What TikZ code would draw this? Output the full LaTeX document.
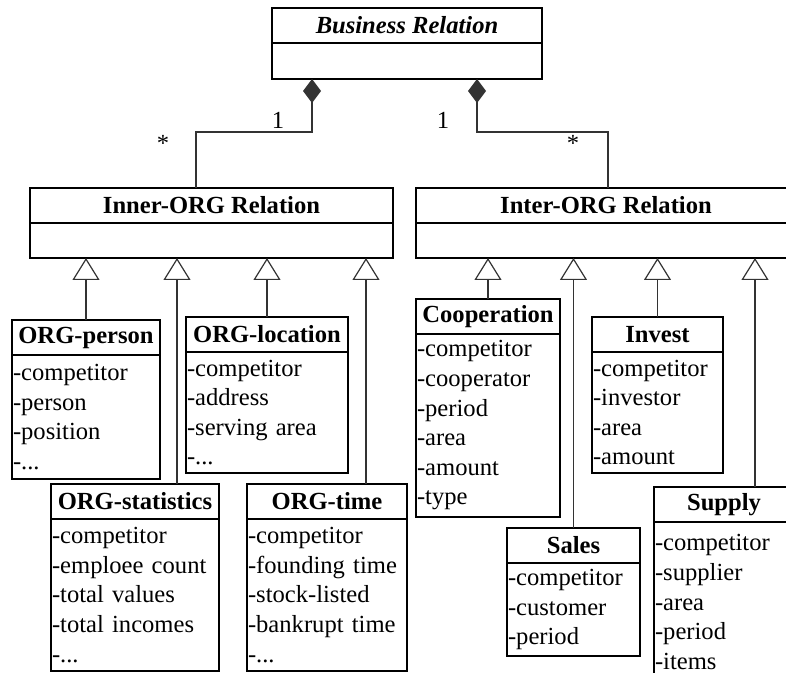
\documentclass[tikz,border=0pt]{standalone}
\usepackage{fontspec}
\setmainfont{Liberation Serif}
\usepackage{tikz}
\usetikzlibrary{arrows.meta}
\usetikzlibrary{positioning}

\tikzset{
  cls/.style={draw,line width=0.9pt,outer sep=0pt,inner sep=1pt,minimum height=17.5pt,font=\fontsize{12.3}{14.8}\selectfont\bfseries},
  attr/.style={draw,line width=0.9pt,outer sep=0pt,inner xsep=0.5pt,inner ysep=1pt,align=left,font=\fontsize{12.3}{14.8}\selectfont},
  gen/.style={draw=black!80,line width=0.6pt,-{Triangle[open,length=11pt,width=13.5pt]}},
  comp/.style={draw=black!80,line width=0.6pt,-{Diamond[length=12pt,width=9pt]}},
  mult/.style={inner sep=0pt,font=\fontsize{12.3}{14.8}\selectfont}
}

\begin{document}
\begin{tikzpicture}[x=0.5pt,y=-0.5pt]
\clip (0,0) rectangle (786,673);

\node[cls,minimum width=135pt](business) at (407,25.5){\textit{Business Relation}};
\node[attr,text width=134pt,minimum height=18pt,below=0pt of business](business-a){};

\node[cls,minimum width=181.5pt](inner) at (211.5,205.5){Inner-ORG Relation};
\node[attr,text width=180.5pt,minimum height=17.5pt,below=0pt of inner](inner-a){};
\node[cls,minimum width=190pt](inter) at (606,205.5){Inter-ORG Relation};
\node[attr,text width=189pt,minimum height=17.5pt,below=0pt of inter](inter-a){};

\node[cls,minimum width=74pt](person) at (86,337.5){ORG-person};
\node[attr,text width=73pt,minimum height=62pt,below=0pt of person](person-a){-competitor\\-person\\-position\\-...};
\node[cls,minimum width=81pt](location) at (267,334.5){ORG-location};
\node[attr,text width=80pt,minimum height=60.5pt,below=0pt of location](location-a){-competitor\\-address\\-serving area\\-...};
\node[cls,minimum width=84pt](stats) at (135,501.5){ORG-statistics};
\node[attr,text width=83pt,minimum height=76pt,below=0pt of stats](stats-a){-competitor\\-emploee count\\-total values\\-total incomes\\-...};
\node[cls,minimum width=80pt](time) at (327,501.5){ORG-time};
\node[attr,text width=79pt,minimum height=76pt,below=0pt of time](time-a){-competitor\\-founding time\\-stock-listed\\-bankrupt time\\-...};

\node[cls,minimum width=72pt](coop) at (488,316.5){Cooperation};
\node[attr,text width=71pt,minimum height=91.5pt,below=0pt of coop](coop-a){-competitor\\-cooperator\\-period\\-area\\-amount\\-type};
\node[cls,minimum width=65.5pt](invest) at (657.5,334.5){Invest};
\node[attr,text width=64.5pt,minimum height=60.5pt,below=0pt of invest](invest-a){-competitor\\-investor\\-area\\-amount};
\node[cls,minimum width=66.5pt](sales) at (573.5,545.5){Sales};
\node[attr,text width=65.5pt,minimum height=46.5pt,below=0pt of sales](sales-a){-competitor\\-customer\\-period};
\node[cls,minimum width=70pt](supply) at (724,504.5){Supply};
\node[attr,text width=69pt,minimum height=80pt,below=0pt of supply](supply-a){-competitor\\-supplier\\-area\\-period\\-items};

% composition
\coordinate (lj) at (196,132);
\coordinate (rj) at (608,132);
\draw[comp](inner.north -| lj)--(lj)-|([xshift=-47.5pt]business-a.south);
\draw[comp](inter.north -| rj)--(rj)-|([xshift=35pt]business-a.south);
\node[mult](m1) at (278,120.5){1};
\node[mult](m2) at (443,120.5){1};
\node[mult](m3) at (163,143){*};
\node[mult](m4) at (573,143){*};

% generalization
\coordinate (stats-top) at ([xshift=21pt]stats.north);
\coordinate (time-top) at ([xshift=19.5pt]time.north);
\coordinate (supply-top) at ([xshift=15.5pt]supply.north);
\draw[gen](person.north)--(person.north |- inner-a.south);
\draw[gen](stats-top)--(stats-top |- inner-a.south);
\draw[gen](location.north)--(location.north |- inner-a.south);
\draw[gen](time-top)--(time-top |- inner-a.south);
\draw[gen](coop.north)--(coop.north |- inter-a.south);
\draw[gen](sales.north)--(sales.north |- inter-a.south);
\draw[gen](invest.north)--(invest.north |- inter-a.south);
\draw[gen](supply-top)--(supply-top |- inter-a.south);
\end{tikzpicture}
\end{document}
